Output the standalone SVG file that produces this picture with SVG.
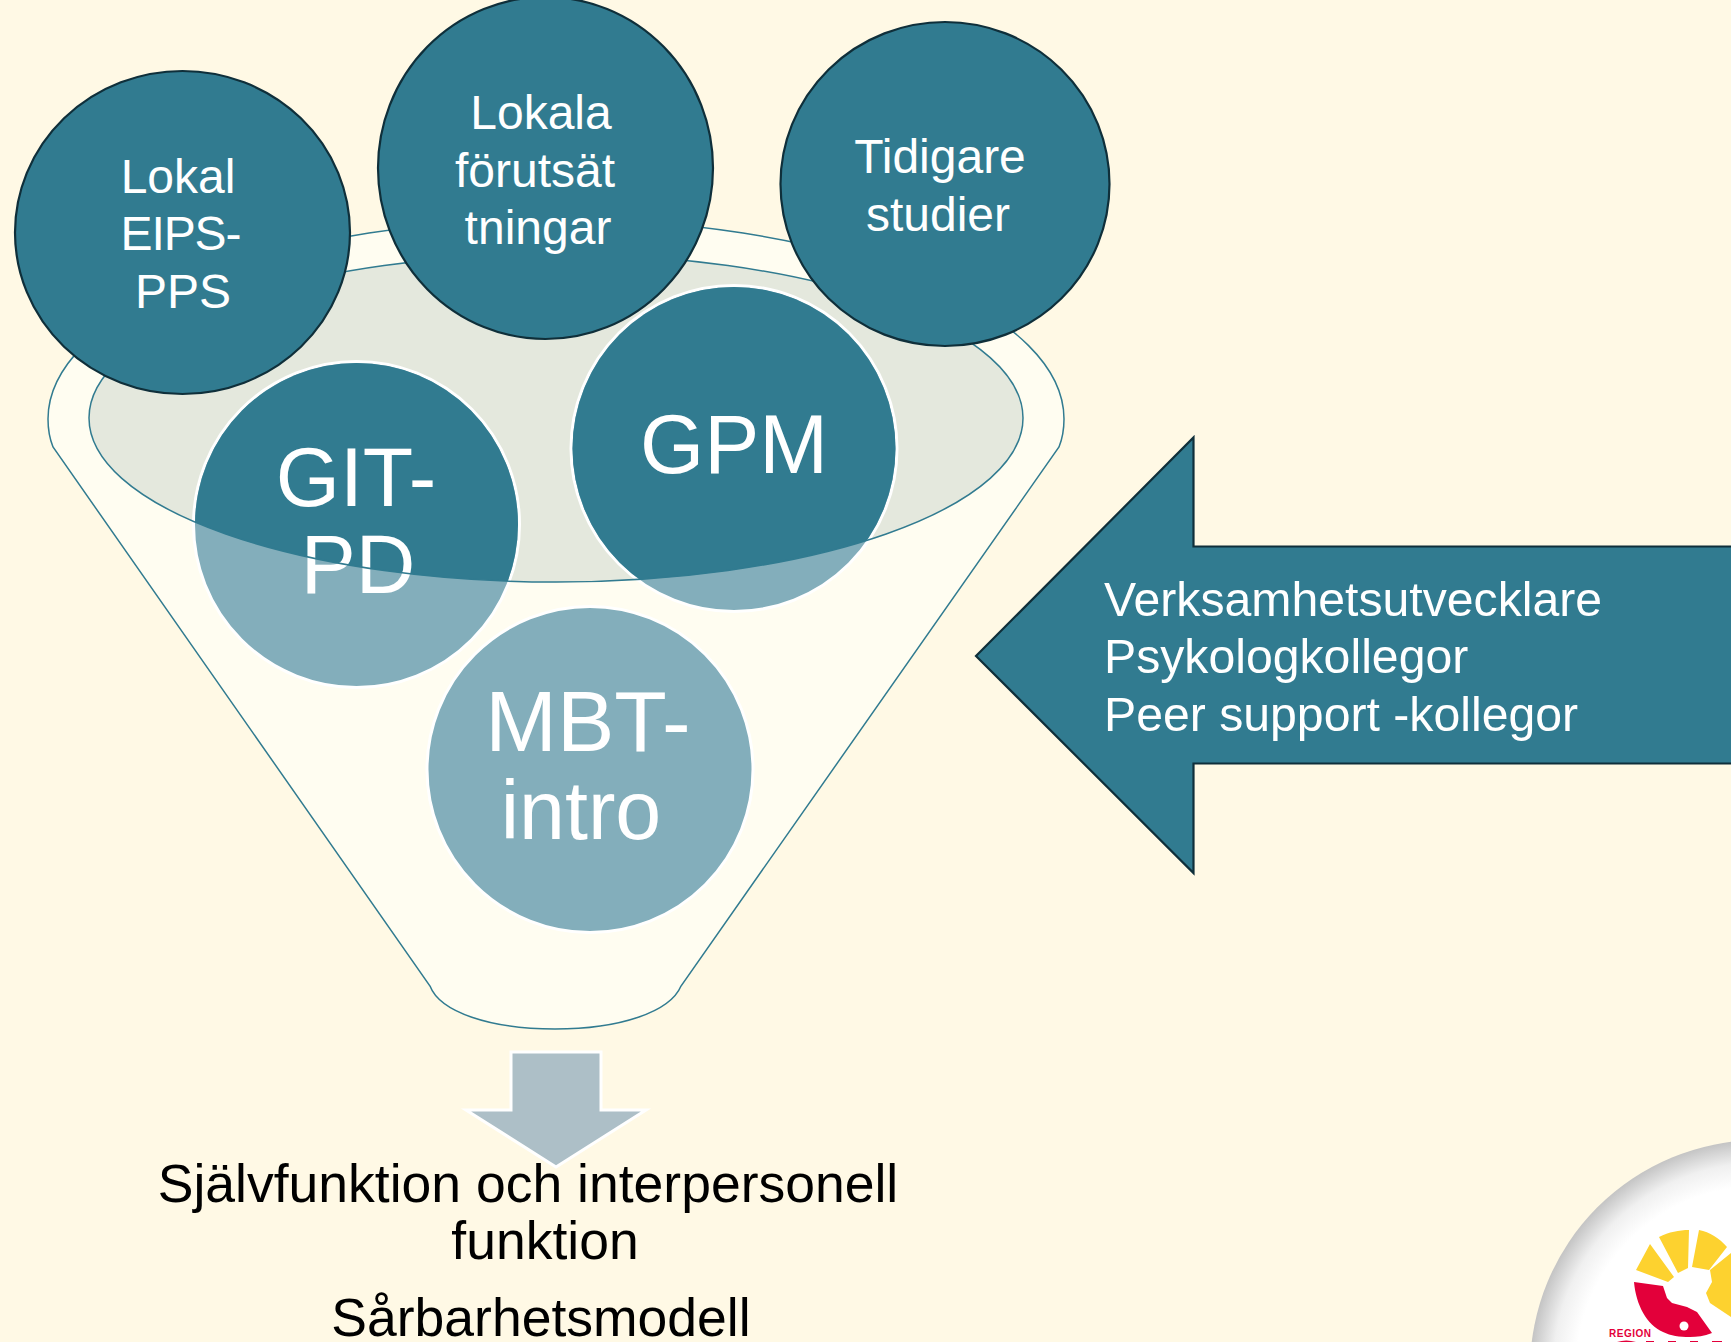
<svg xmlns="http://www.w3.org/2000/svg" width="1731" height="1342" viewBox="0 0 1731 1342">
<style>
text{font-family:"Liberation Sans",Arial,sans-serif;fill:#fff}
.t1{font-size:48px}
.t2{font-size:82.500px}
.t3{font-size:48.200px}
.t4{font-size:53.500px;fill:#000}
.top{fill:#317b90;stroke:#0f2f3a;stroke-width:2.200}
.pale{fill:#83aebb;stroke:#fff;stroke-width:3}
.dark{fill:#317b90}
.ln{fill:none;stroke:#317b90;stroke-width:1.500}
</style>
<defs>
<radialGradient id="disc" gradientUnits="userSpaceOnUse" cx="1760" cy="1370" r="230">
<stop offset="0.8" stop-color="#fff"/><stop offset="0.9" stop-color="#f0f0f0"/><stop offset="1" stop-color="#c4c4c4"/>
</radialGradient>
<clipPath id="inner"><ellipse cx="556" cy="418" rx="467" ry="164"/></clipPath>
</defs>
<rect width="1731" height="1342" fill="#fff9e5"/>
<g id="funnel">
<path d="M53 447C49 437 48 428 48 419A508 200 0 0 1 1064 419C1064 428 1063 437 1059 447L681 986C670 1012 620 1029 555 1029C490 1029 440 1012 430 986Z" fill="#fffdf1" stroke="#317b90" stroke-width="1.500"/>
<ellipse cx="556" cy="418" rx="467" ry="164" fill="#e4e8dd"/>
</g>
<g id="node-git-pd">
<circle class="pale" cx="356.500" cy="524.500" r="163"/>
<circle class="dark" cx="356.500" cy="524.500" r="161.500" clip-path="url(#inner)"/>
<text class="t2" x="356" y="506" text-anchor="middle">GIT-</text>
<text class="t2" x="358" y="593" text-anchor="middle">PD</text>
</g>
<g id="node-gpm">
<circle class="pale" cx="734" cy="448.500" r="163"/>
<circle class="dark" cx="734" cy="448.500" r="161.500" clip-path="url(#inner)"/>
<text class="t2" x="734" y="473" text-anchor="middle">GPM</text>
</g>
<g id="node-mbt">
<circle class="pale" cx="590" cy="769.500" r="163"/>
<text class="t2" x="588" y="751" text-anchor="middle" style="font-size:86px">MBT-</text>
<text class="t2" x="581" y="839" text-anchor="middle">intro</text>
</g>
<ellipse class="ln" cx="556" cy="418" rx="467" ry="164"/>
<g id="node-lokal">
<ellipse class="top" cx="182.500" cy="232.500" rx="167.500" ry="161.500"/>
<text class="t1" x="178" y="193" text-anchor="middle">Lokal</text>
<text class="t1" x="181" y="250" text-anchor="middle" textLength="121" lengthAdjust="spacing">EIPS-</text>
<text class="t1" x="183" y="308" text-anchor="middle">PPS</text>
</g>
<g id="node-lokala">
<ellipse class="top" cx="545.500" cy="168" rx="167.500" ry="171"/>
<text class="t1" x="541" y="129" text-anchor="middle">Lokala</text>
<text class="t1" x="535" y="187" text-anchor="middle">förutsät</text>
<text class="t1" x="538" y="244" text-anchor="middle">tningar</text>
</g>
<g id="node-tidigare">
<ellipse class="top" cx="945" cy="184" rx="164.500" ry="162"/>
<text class="t1" x="940" y="173" text-anchor="middle">Tidigare</text>
<text class="t1" x="938" y="231" text-anchor="middle">studier</text>
</g>
<g id="node-sources">
<path d="M1731 546.500H1193.500V437.500L976 656L1193.500 873V763.500H1731" fill="#317b90" stroke="#0f2f3a" stroke-width="2.200"/>
<text class="t3" x="1104" y="616">Verksamhetsutvecklare</text>
<text class="t3" x="1104" y="673">Psykologkollegor</text>
<text class="t3" x="1104" y="731">Peer support -kollegor</text>
</g>
<g id="connectors">
<path d="M511 1052H601V1110H646L556 1167L466 1110H511Z" fill="#adbfc7" stroke="#fff" stroke-width="3"/>
</g>
<g id="node-result">
<text class="t4" x="528" y="1202" text-anchor="middle">Självfunktion och interpersonell</text>
<text class="t4" x="545" y="1259" text-anchor="middle">funktion</text>
<text class="t4" x="541" y="1336" text-anchor="middle">Sårbarhetsmodell</text>
</g>
<g id="logo">
<circle cx="1760" cy="1370" r="230" fill="url(#disc)"/>
<path d="M1636 1270L1650 1244L1674 1277L1668 1282Z M1659 1237C1669 1232 1679 1230 1689 1230L1688 1268L1678 1273Z M1699 1230C1710 1232 1719 1238 1727 1247L1709 1270L1692 1267Z M1731 1253L1710 1270L1712 1282L1706 1293L1710 1303L1731 1317Z" fill="#fdd22f"/>
<path d="M1634 1282L1663 1286L1667 1298L1672 1303L1687 1307L1697 1312L1712 1333C1704 1336 1697 1337 1690 1337C1679 1337 1671 1336 1663 1332C1647 1325 1636 1305 1634 1282Z" fill="#e3003a"/>
<circle cx="1684" cy="1326" r="4.500" fill="#fff"/>
<text x="1609" y="1337" font-size="10" font-weight="bold" textLength="42" style="fill:#e3003a">REGION</text>
<path d="M1617 1342Q1626 1339 1636 1342ZM1646 1341h8v1h-8ZM1668 1341h8v1h-8ZM1690 1341h8v1h-8ZM1712 1341h10v1h-10Z" fill="#e3003a"/>
</g>
</svg>
